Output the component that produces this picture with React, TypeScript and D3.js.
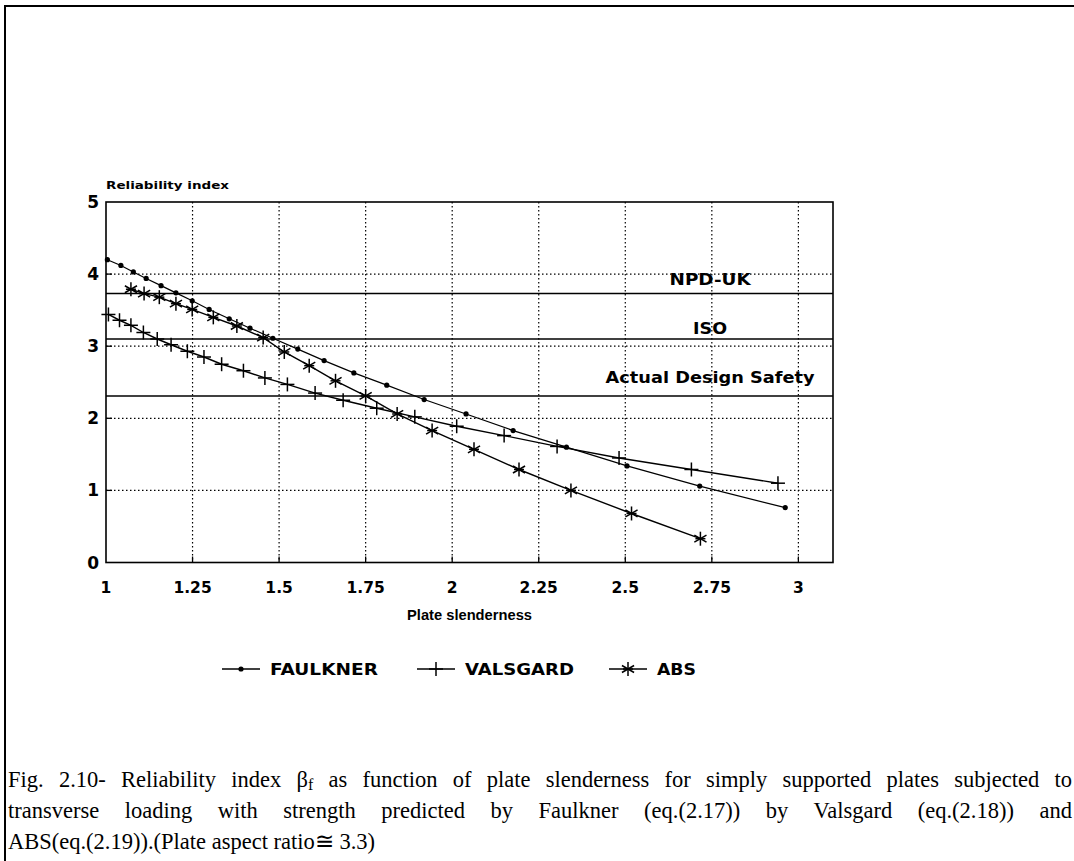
import React, { useEffect, useRef } from "react";
import * as d3 from "d3";

const faulknerX = [1.004, 1.043, 1.079, 1.116, 1.159, 1.202, 1.249, 1.298, 1.356, 1.416, 1.482, 1.554, 1.63, 1.716, 1.811, 1.919, 2.04, 2.176, 2.33, 2.505, 2.715, 2.962];
const faulknerY = [4.2, 4.12, 4.03, 3.94, 3.84, 3.74, 3.63, 3.51, 3.38, 3.25, 3.11, 2.96, 2.8, 2.63, 2.46, 2.26, 2.06, 1.83, 1.6, 1.34, 1.06, 0.76];

const valsgardX = [1.007, 1.039, 1.072, 1.108, 1.148, 1.188, 1.235, 1.283, 1.334, 1.397, 1.459, 1.524, 1.604, 1.685, 1.782, 1.892, 2.013, 2.15, 2.303, 2.482, 2.691, 2.941];
const valsgardY = [3.44, 3.36, 3.29, 3.19, 3.1, 3.02, 2.93, 2.85, 2.75, 2.66, 2.56, 2.47, 2.35, 2.25, 2.14, 2.02, 1.89, 1.76, 1.61, 1.45, 1.29, 1.1];

const absX = [1.072, 1.11, 1.154, 1.202, 1.249, 1.31, 1.378, 1.454, 1.515, 1.587, 1.663, 1.75, 1.841, 1.942, 2.063, 2.193, 2.343, 2.518, 2.717];
const absY = [3.79, 3.73, 3.68, 3.59, 3.51, 3.4, 3.28, 3.12, 2.92, 2.73, 2.52, 2.31, 2.06, 1.83, 1.57, 1.29, 1.0, 0.68, 0.33];

const refLabels = ["NPD-UK", "ISO", "Actual Design Safety"];
const refValues = [3.73, 3.1, 2.31];
const refLabelX = 2.745;

const xTicks = [1, 1.25, 1.5, 1.75, 2, 2.25, 2.5, 2.75, 3];
const xTickLabels = ["1", "1.25", "1.5", "1.75", "2", "2.25", "2.5", "2.75", "3"];
const yTicks = [0, 1, 2, 3, 4, 5];
const yTickLabels = ["0", "1", "2", "3", "4", "5"];

const seriesNames = ["FAULKNER", "VALSGARD", "ABS"];

const xTitle = "Plate slenderness";
const yTitle = "Reliability index";

const captionLines = [
  "Fig. 2.10- Reliability index |β|f| as function of plate slenderness for simply supported plates subjected to",
  "transverse loading with strength predicted by Faulkner (eq.(2.17)) by Valsgard (eq.(2.18)) and",
  "ABS(eq.(2.19)).(Plate aspect ratio≅ 3.3)",
];

const W = 1074;
const H = 861;
const SANS = "'Liberation Sans', Arial, Helvetica, sans-serif";
const WIDE = "'DejaVu Sans', 'Liberation Sans', sans-serif";
const SERIF = "'Liberation Serif', 'Times New Roman', serif";

export default function App() {
  const ref = useRef<SVGSVGElement | null>(null);

  useEffect(() => {
    const svg = d3.select(ref.current);
    svg.selectAll("*").remove();

    const x = d3.scaleLinear().domain([1, 3.1]).range([106, 833]);
    const y = d3.scaleLinear().domain([0, 5]).range([562.5, 202]);
    const [x0, x1] = x.range();
    const [y0, y1] = y.range();

    // frame (top & left)
    svg.append("line").attr("x1", 4).attr("x2", W).attr("y1", 6).attr("y2", 6).attr("stroke", "#000").attr("stroke-width", 2);
    svg.append("line").attr("x1", 5).attr("x2", 5).attr("y1", 5).attr("y2", H).attr("stroke", "#000").attr("stroke-width", 2);

    const g = svg.append("g");

    // grid
    g.selectAll(".gx")
      .data(xTicks.filter((t) => t > 1))
      .enter()
      .append("line")
      .attr("x1", (d) => x(d))
      .attr("x2", (d) => x(d))
      .attr("y1", y1)
      .attr("y2", y0)
      .attr("stroke", "#000")
      .attr("stroke-width", 1.2)
      .attr("stroke-dasharray", "1.5,2.5");
    g.selectAll(".gy")
      .data(yTicks.filter((t) => t > 0 && t < 5))
      .enter()
      .append("line")
      .attr("x1", x0)
      .attr("x2", x1)
      .attr("y1", (d) => y(d))
      .attr("y2", (d) => y(d))
      .attr("stroke", "#000")
      .attr("stroke-width", 1.2)
      .attr("stroke-dasharray", "1.5,2.5");

    // inner ticks
    g.selectAll(".tx")
      .data(xTicks.filter((t) => t > 1))
      .enter()
      .append("line")
      .attr("x1", (d) => x(d))
      .attr("x2", (d) => x(d))
      .attr("y1", y0)
      .attr("y2", y0 - 6)
      .attr("stroke", "#000")
      .attr("stroke-width", 1.3);
    g.selectAll(".ty")
      .data(yTicks.filter((t) => t > 0 && t < 5))
      .enter()
      .append("line")
      .attr("x1", x0)
      .attr("x2", x0 + 6)
      .attr("y1", (d) => y(d))
      .attr("y2", (d) => y(d))
      .attr("stroke", "#000")
      .attr("stroke-width", 1.3);

    // reference lines
    refValues.forEach((v) => {
      g.append("line")
        .attr("x1", x0)
        .attr("x2", x1)
        .attr("y1", y(v))
        .attr("y2", y(v))
        .attr("stroke", "#000")
        .attr("stroke-width", 1.5);
    });
    const refOffsets = [9, 5, 13];
    const refWidths = [81, 34, 209];
    refLabels.forEach((t, i) => {
      g.append("text")
        .attr("x", x(refLabelX))
        .attr("y", y(refValues[i]) - refOffsets[i])
        .attr("text-anchor", "middle")
        .attr("font-family", WIDE)
        .attr("font-weight", "bold")
        .attr("font-size", 16.5)
        .attr("textLength", refWidths[i])
        .attr("lengthAdjust", "spacingAndGlyphs")
        .text(t);
    });

    // plot box
    g.append("rect")
      .attr("x", x0)
      .attr("y", y1)
      .attr("width", x1 - x0)
      .attr("height", y0 - y1)
      .attr("fill", "none")
      .attr("stroke", "#000")
      .attr("stroke-width", 1.6);

    // tick labels
    g.selectAll(".lx")
      .data(xTicks)
      .enter()
      .append("text")
      .attr("x", (d) => x(d))
      .attr("y", 593)
      .attr("text-anchor", "middle")
      .attr("font-family", WIDE)
      .attr("font-weight", "bold")
      .attr("font-size", 15.5)
      .text((d, i) => xTickLabels[i]);
    g.selectAll(".ly")
      .data(yTicks)
      .enter()
      .append("text")
      .attr("x", 99)
      .attr("y", (d) => y(d) + 6)
      .attr("text-anchor", "end")
      .attr("font-family", WIDE)
      .attr("font-weight", "bold")
      .attr("font-size", 17)
      .text((d, i) => yTickLabels[i]);

    // axis titles
    g.append("text")
      .attr("x", (x0 + x1) / 2)
      .attr("y", 620)
      .attr("text-anchor", "middle")
      .attr("font-family", SANS)
      .attr("font-weight", "bold")
      .attr("font-size", 15)
      .attr("textLength", 125)
      .attr("lengthAdjust", "spacingAndGlyphs")
      .text(xTitle);
    g.append("text")
      .attr("x", x0)
      .attr("y", 189)
      .attr("font-family", WIDE)
      .attr("font-weight", "bold")
      .attr("font-size", 11)
      .attr("textLength", 123)
      .attr("lengthAdjust", "spacingAndGlyphs")
      .text(yTitle);

    // markers
    const dot = (sel: any, cx: number, cy: number) =>
      sel.append("circle").attr("cx", cx).attr("cy", cy).attr("r", 2.6).attr("fill", "#000");
    const plus = (sel: any, cx: number, cy: number) => {
      sel.append("line").attr("x1", cx - 7).attr("x2", cx + 7).attr("y1", cy).attr("y2", cy).attr("stroke", "#000").attr("stroke-width", 1.5);
      sel.append("line").attr("x1", cx).attr("x2", cx).attr("y1", cy - 7).attr("y2", cy + 7).attr("stroke", "#000").attr("stroke-width", 1.5);
    };
    const star = (sel: any, cx: number, cy: number) => {
      const r = 7;
      [90, 30, -30, 0].forEach((a, k) => {
        const rr = k === 3 ? 5 : r;
        const dx = rr * Math.cos((a * Math.PI) / 180);
        const dy = rr * Math.sin((a * Math.PI) / 180);
        sel.append("line").attr("x1", cx - dx).attr("x2", cx + dx).attr("y1", cy - dy).attr("y2", cy + dy).attr("stroke", "#000").attr("stroke-width", 1.5);
      });
    };

    const line = d3.line<[number, number]>().x((d) => x(d[0])).y((d) => y(d[1]));
    const series = [
      { xs: faulknerX, ys: faulknerY, m: dot, w: 1.2 },
      { xs: valsgardX, ys: valsgardY, m: plus, w: 1.4 },
      { xs: absX, ys: absY, m: star, w: 1.4 },
    ];
    series.forEach((s) => {
      const pts: [number, number][] = s.xs.map((v, i) => [v, s.ys[i]]);
      g.append("path").attr("d", line(pts)).attr("fill", "none").attr("stroke", "#000").attr("stroke-width", s.w);
      pts.forEach((p) => s.m(g, x(p[0]), y(p[1])));
    });

    // legend
    const legY = 669;
    const legLineX = [222, 417, 609];
    const legTextW = [108, 109, 39];
    seriesNames.forEach((name, i) => {
      const lx = legLineX[i];
      g.append("line").attr("x1", lx).attr("x2", lx + 38).attr("y1", legY).attr("y2", legY).attr("stroke", "#000").attr("stroke-width", 1.4);
      series[i].m(g, lx + 19, legY);
      g.append("text")
        .attr("x", lx + 48)
        .attr("y", legY + 6)
        .attr("font-family", WIDE)
        .attr("font-weight", "bold")
        .attr("font-size", 15)
        .attr("textLength", legTextW[i])
        .attr("lengthAdjust", "spacingAndGlyphs")
        .text(name);
    });

    // caption (justified lines 1 and 2)
    const capX = 8;
    const capRight = 1072;
    const baselines = [787, 818, 849];
    const capSize = 22.5;
    captionLines.forEach((ln, i) => {
      const t = svg.append("text")
        .attr("x", capX)
        .attr("y", baselines[i])
        .attr("font-family", SERIF)
        .attr("font-size", capSize)
        .attr("fill", "#000");
      const parts = ln.split("|");
      parts.forEach((p, k) => {
        if (k === 2) {
          t.append("tspan").attr("dy", 3).attr("font-size", 16).text(p);
        } else if (k === 3) {
          t.append("tspan").attr("dy", -3).text(p);
        } else {
          t.append("tspan").text(p);
        }
      });
      if (i < 2) {
        const nat = (t.node() as SVGTextElement).getComputedTextLength();
        const spaces = (ln.match(/ /g) || []).length;
        const ws = (capRight - capX - nat) / spaces;
        t.attr("word-spacing", ws);
      }
    });
  }, []);

  return (
    <svg
      ref={ref}
      width={W}
      height={H}
      style={{ position: "absolute", left: 0, top: 0, background: "#fff" }}
    />
  );
}
